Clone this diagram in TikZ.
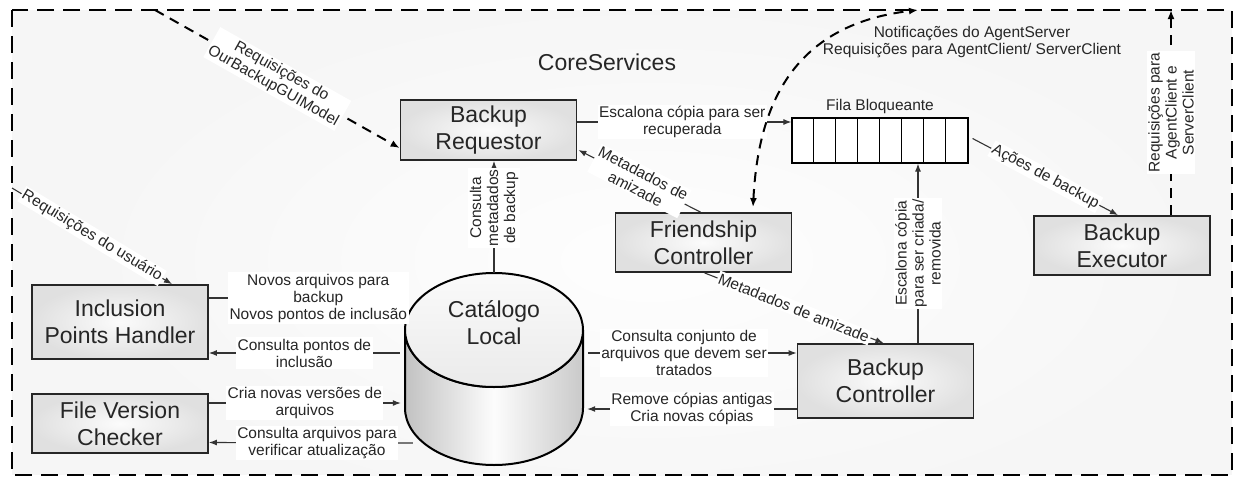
\documentclass[tikz,border=0pt]{standalone}
\usepackage{fontspec}
\setmainfont{Liberation Sans}
\usetikzlibrary{arrows.meta,calc}
\begin{document}
\begin{tikzpicture}[x=1pt,y=-1pt,
  box/.style={draw=black!85,line width=1.8pt,inner color=gray!3,outer color=gray!24,minimum width=176pt,align=center,font=\fontsize{23}{27}\selectfont,text=black!85,inner sep=0pt},
  lbl/.style={fill=white,inner sep=1.5pt,align=center,font=\fontsize{15.5}{17}\selectfont,text=black!85},
  conn/.style={line width=1.1pt,draw=black!80,-{Latex[length=8pt,width=6pt]}},
  dconn/.style={line width=2pt,dash pattern=on 10pt off 7pt,-{Latex[length=9pt,width=7pt]}},
]
\useasboundingbox (0,0) rectangle (1235,477);
% background
\fill[gray!7] (12,10) rectangle (1232,475);
\begin{scope}
\clip (12,10) rectangle (1232,475);
\shade[inner color=gray!1,outer color=gray!7] (650,260) ellipse[x radius=560,y radius=260];
\end{scope}
\draw[line width=2.5pt,dash pattern=on 17pt off 9pt] (12,10) rectangle (1232,475);

\coordinate (guiin) at (155,10);
\coordinate (userin) at (12,188);
\coordinate (netout) at (918,10);
\coordinate (clout) at (1171,10);

\node[font=\fontsize{23}{27}\selectfont,text=black!85] (core) at (607,62) {CoreServices};

% boxes
\node[box,minimum height=60pt] (br) at (488.5,130) {Backup\\Requestor};
\node[box,minimum height=59pt] (fc) at (703.5,242.5) {Friendship\\Controller};
\node[box,minimum height=59pt] (be) at (1122,245.5) {Backup\\Executor};
\node[box,minimum height=74pt] (bc) at (885.5,381) {Backup\\Controller};
\node[box,minimum height=74pt] (iph) at (120,322) {Inclusion\\Points Handler};
\node[box,minimum height=59pt] (fvc) at (120,423.5) {File Version\\Checker};

% cylinder
\node[minimum width=178pt,minimum height=192pt,inner sep=0pt] (cat) at (494,369) {};
\draw[line width=2pt,left color=gray!48,right color=gray!42,middle color=gray!2] (405,330) -- (405,408) arc[start angle=180,end angle=0,x radius=89,y radius=57] -- (583,330) arc[start angle=0,end angle=180,x radius=89,y radius=57] -- cycle;
\draw[line width=2pt,top color=gray!4,bottom color=gray!16] (494,330) ellipse[x radius=89,y radius=57];
\node[font=\fontsize{23}{27}\selectfont,align=center,text=black!85] (catlbl) at (494,323) {Catálogo\\Local};

% queue
\node[draw,fill=white,line width=1.2pt,minimum width=176pt,minimum height=45pt,inner sep=0pt] (queue) at (880,140.5) {};
\foreach \i in {1,...,7}
  \draw[line width=1.2pt] ($(queue.north west)+(22*\i,0)$) -- ($(queue.south west)+(22*\i,0)$);
\node[font=\fontsize{15.5}{17}\selectfont,text=black!85] (qlabel) at (880,106) {Fila Bloqueante};

\node[font=\fontsize{15.5}{17}\selectfont,align=center,text=black!85] (notif) at (972,42) {Notificações do AgentServer\\Requisições para AgentClient/ ServerClient};

% connectors
\draw[dconn] (guiin) -- node[lbl,rotate=-29.4]{Requisições do\\OurBackupGUIModel} ($(br.west)+(0,18)$);
\draw[conn] (userin) -- node[lbl,rotate=-31.2]{Requisições do usuário} ($(iph.north)+(52,0)$);
\draw[conn] ($(br.east)+(0,-8)$) -- node[lbl,pos=0.49]{Escalona cópia para ser\\recuperada} ($(queue.west)+(0,-18.5)$);
\draw[line width=2pt,dash pattern=on 10pt off 7pt,{Latex[length=9pt,width=7pt]}-{Latex[length=9pt,width=7pt]}] ($(fc.north)+(49.5,-5)$) .. controls +(5,-98) and +(-128,15) .. (netout);
\draw[conn] ($(fc.north)+(-3,0)$) -- node[lbl,rotate=-27.3]{Metadados de\\amizade} ($(br.east)+(1,20)$);
\draw[conn] (cat.north) -- node[lbl,rotate=90,pos=0.58]{Consulta\\metadados\\de backup} (cat.north |- br.south);
\draw[conn] ($(fc.south)+(1,0)$) -- node[lbl,rotate=-21.9]{Metadados de amizade} ($(bc.north)+(-2,0)$);
\coordinate (bcq) at ($(bc.north)+(32.5,0)$);
\draw[conn] (bcq) -- node[lbl,rotate=90]{Escalona cópia\\para ser criada/\\removida} (bcq |- queue.south);
\draw[conn] ($(queue.east)+(4,-2)$) -- node[lbl,rotate=-28]{Ações de backup} ($(be.north)+(-4,0)$);
\draw[dconn] ($(be.north)+(49,0)$) -- node[lbl,rotate=90]{Requisições para\\AgentClient e\\ServerClient} (clout);
\draw[conn] ($(iph.east)+(0,-24)$) -- node[lbl,pos=0.55]{Novos arquivos para\\backup\\Novos pontos de inclusão} ($(cat.west)+(3,-71)$);
\draw[conn] ($(cat.west)+(-5,-16)$) -- node[lbl]{Consulta pontos de\\inclusão} ($(iph.east)+(0,31)$);
\draw[conn] ($(fvc.east)+(0,-20.5)$) -- node[lbl]{Cria novas versões de\\arquivos} ($(cat.west)+(-4,34)$);
\draw[conn] ($(cat.west)+(8,74)$) -- node[lbl,pos=0.47]{Consulta arquivos para\\verificar atualização} ($(fvc.east)+(0,19)$);
\draw[conn] ($(cat.east)+(5,-16)$) -- node[lbl,pos=0.46]{Consulta conjunto de\\arquivos que devem ser\\tratados} ($(bc.west)+(0,-28)$);
\draw[conn] ($(bc.west)+(0,28)$) -- node[lbl]{Remove cópias antigas\\Cria novas cópias} ($(cat.east)+(4,40)$);
\end{tikzpicture}
\end{document}
